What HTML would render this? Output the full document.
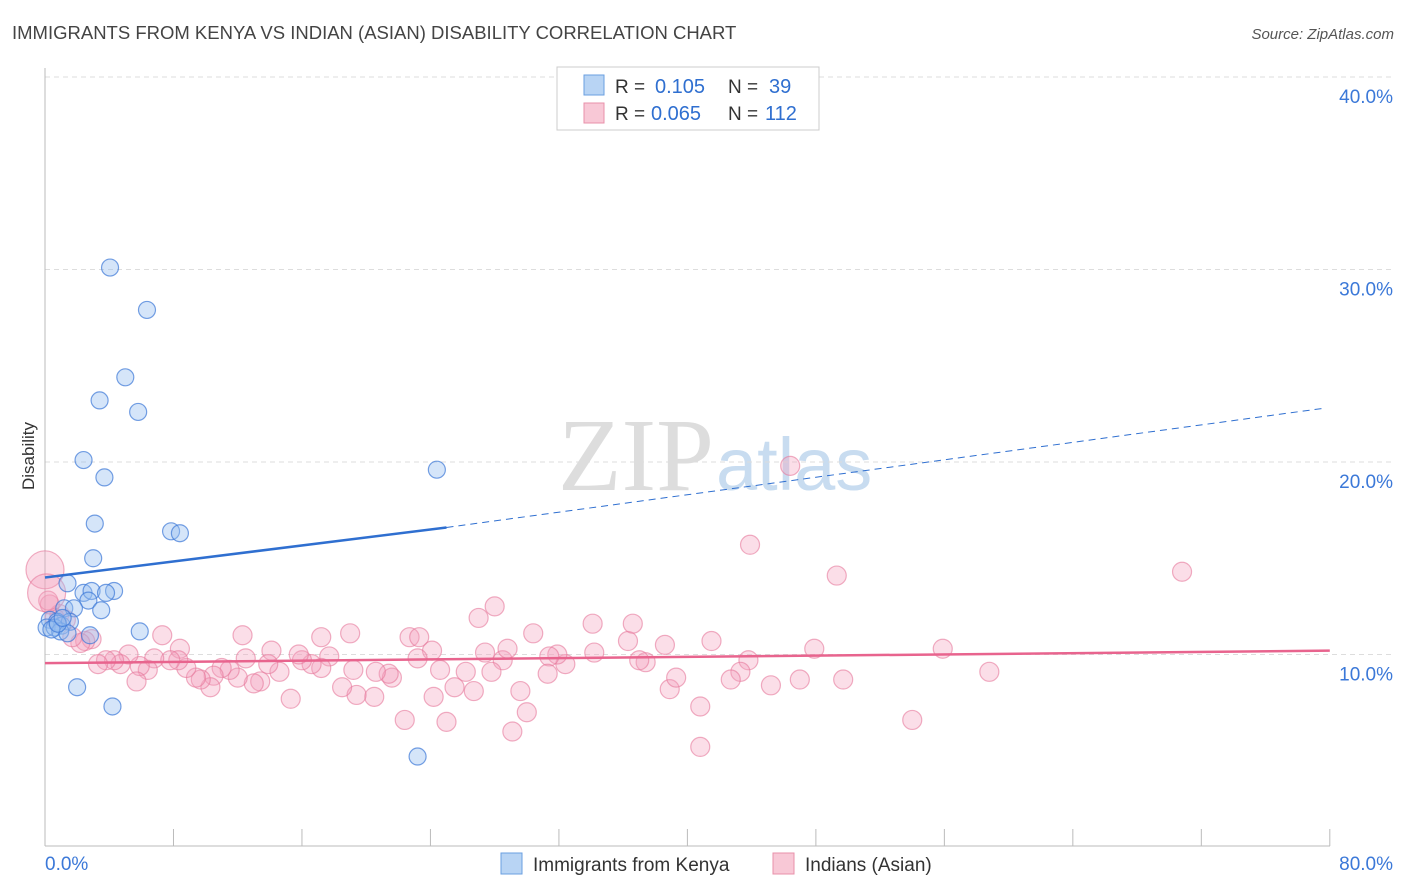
<!DOCTYPE html>
<html><head><meta charset="utf-8"><style>
body{margin:0;background:#fff;font-family:"Liberation Sans",sans-serif;}
svg{display:block}
</style></head><body>
<svg id="chart" width="1406" height="892">
<text x="12" y="39" font-size="18.5" fill="#444">IMMIGRANTS FROM KENYA VS INDIAN (ASIAN) DISABILITY CORRELATION CHART</text>
<text x="1394" y="39" font-size="15" fill="#555" font-style="italic" text-anchor="end">Source: ZipAtlas.com</text>
<text x="34" y="456" font-size="17" fill="#333" transform="rotate(-90 34 456)" text-anchor="middle">Disability</text>
<text x="714" y="490" font-size="104" fill="#ddd" text-anchor="end" font-family="Liberation Serif">ZIP</text>
<text x="716" y="490" font-size="74" fill="#c8dcf0">atlas</text>
<g id="grid"></g><g id="pts"></g><g id="lines"></g>
<g>
<rect x="557" y="67" width="262" height="63" fill="#fff" stroke="#ccc"/>
<rect x="584" y="75" width="20" height="20" fill="#b8d4f4" stroke="#6a9fe0"/>
<rect x="584" y="103" width="20" height="20" fill="#f8c8d6" stroke="#e890aa"/>
<text x="615" y="93" font-size="19" fill="#333">R =</text>
<text x="655" y="93" font-size="20" fill="#2f6fd0">0.105</text>
<text x="728" y="93" font-size="19" fill="#333">N =</text>
<text x="769" y="93" font-size="20" fill="#2f6fd0">39</text>
<text x="615" y="120" font-size="19" fill="#333">R =</text>
<text x="651" y="120" font-size="20" fill="#2f6fd0">0.065</text>
<text x="728" y="120" font-size="19" fill="#333">N =</text>
<text x="765" y="120" font-size="20" fill="#2f6fd0">112</text>
</g>
<g>
<rect x="501" y="853" width="21" height="21" fill="#b8d4f4" stroke="#6a9fe0"/>
<text x="533" y="871" font-size="19" fill="#333">Immigrants from Kenya</text>
<rect x="773" y="853" width="21" height="21" fill="#f8c8d6" stroke="#e890aa"/>
<text x="805" y="871" font-size="19" fill="#333">Indians (Asian)</text>
</g>
</svg>
<script>
const yTicks=[10,20,30,40];
const yTickLabels=["10.0%","20.0%","30.0%","40.0%"];
const xTickLabels=["0.0%","80.0%"];
const kenyaX=[4.05,6.35,5.0,3.4,5.8,2.4,3.7,24.4,3.1,7.85,8.4,3.0,1.4,2.4,2.9,4.3,3.8,2.7,3.5,1.2,1.8,0.3,0.75,1.05,1.55,0.1,0.6,0.95,1.4,5.9,2.8,2.0,4.2,23.2,0.4,0.8,1.1];
const kenyaY=[30.1,27.9,24.4,23.2,22.6,20.1,19.2,19.6,16.8,16.4,16.3,15.0,13.7,13.2,13.3,13.3,13.2,12.8,12.3,12.4,12.4,11.8,11.7,11.5,11.7,11.4,11.4,11.2,11.1,11.2,11.0,8.3,7.3,4.7,11.3,11.6,11.9];
const indianX=[7.3,8.4,12.3,14.1,17.2,19.0,22.7,23.3,24.1,27.0,28.0,30.4,34.1,36.3,36.6,38.6,41.5,43.9,46.4,49.3,47.9,55.9,70.8,58.8,54.0,49.7,47.0,45.2,43.8,43.3,42.7,40.8,40.8,38.9,39.3,37.4,37.0,34.2,32.4,31.9,31.4,31.3,30.0,29.6,29.1,28.5,28.8,27.8,27.4,26.7,26.2,25.5,25.0,24.6,24.2,23.2,22.4,21.6,21.4,20.6,20.5,19.4,19.2,18.5,17.7,17.2,16.6,16.0,15.8,15.3,14.6,13.9,13.4,13.0,12.5,12.0,11.5,11.0,10.5,10.3,9.7,9.4,8.8,8.3,7.8,6.8,6.4,5.9,5.7,5.2,4.7,4.3,3.8,3.3,2.9,2.5,2.2,1.7,1.3,0.9,0.6,0.3,0.2,0.0,0.1];
const indianY=[11.0,10.3,11.0,10.2,10.9,11.1,10.9,10.9,10.2,11.9,12.5,11.1,11.6,10.7,11.6,10.5,10.7,15.7,19.8,14.1,10.3,10.3,14.3,9.1,6.6,8.7,8.7,8.4,9.7,9.1,8.7,7.3,5.2,8.2,8.8,9.6,9.7,10.1,9.5,10.0,9.9,9.0,7.0,8.1,6.0,9.7,10.3,9.1,10.1,8.1,9.1,8.3,6.5,9.2,7.8,9.8,6.6,8.8,9.0,9.1,7.8,7.9,9.2,8.3,9.9,9.3,9.5,9.7,10.0,7.7,9.1,9.5,8.6,8.5,9.8,8.8,9.2,9.3,8.9,8.3,8.7,8.8,9.3,9.7,9.7,9.8,9.2,9.4,8.6,10.0,9.5,9.7,9.7,9.5,10.8,10.7,10.6,10.9,11.8,12.1,11.9,12.6,12.8,14.4,13.2];
const indianR=[];for(let i=0;i<indianX.length;i++)indianR.push(i>=indianX.length-2?19:9.5);
const kenyaTrend=[0,14.0,25,16.6,79.7,22.8];
const indianTrend=[0,9.55,80,10.2];
const X=v=>45+v*16.06, Y=v=>847-v*19.25;
const NS="http://www.w3.org/2000/svg";
function mk(t,a,p){const e=document.createElementNS(NS,t);for(const k in a)e.setAttribute(k,a[k]);p.appendChild(e);return e;}
const g=document.getElementById('grid');
yTicks.forEach((t,i)=>{
 const l=mk('line',{x1:45,x2:1392,y1:Y(t),y2:Y(t),stroke:'#ddd','stroke-dasharray':'5,4'},g);
 
 
 const tx=mk('text',{x:1393,y:Y(t)+26,'font-size':19,fill:'#3b78d8','text-anchor':'end'},g);tx.textContent=yTickLabels[i];
 
 
});
mk('line',{x1:45,x2:45,y1:68,y2:846,stroke:'#bbb'},g);
mk('line',{x1:45,x2:1330,y1:846,y2:846,stroke:'#bbb'},g);
for(let i=1;i<=10;i++)mk('line',{x1:X(i*8),x2:X(i*8),y1:829,y2:846,stroke:'#bbb'},g);
const xl0=mk('text',{x:45,y:870,'font-size':19,fill:'#3b78d8'},g);xl0.textContent=xTickLabels[0];


const xl1=mk('text',{x:1393,y:870,'font-size':19,fill:'#3b78d8','text-anchor':'end'},g);xl1.textContent=xTickLabels[1];


const p=document.getElementById('pts');
indianX.forEach((v,i)=>{const c=mk('circle',{cx:X(v),cy:Y(indianY[i]),r:indianR[i],fill:'rgba(244,160,188,0.35)',stroke:'rgba(230,120,155,0.6)','stroke-width':1.2},p);
 
 });
kenyaX.forEach((v,i)=>{const c=mk('circle',{cx:X(v),cy:Y(kenyaY[i]),r:8.5,fill:'rgba(150,190,240,0.4)',stroke:'rgba(60,120,215,0.7)','stroke-width':1.2},p);
 
 });
const L=document.getElementById('lines');
const k1=mk('line',{x1:X(kenyaTrend[0]),y1:Y(kenyaTrend[1]),x2:X(kenyaTrend[2]),y2:Y(kenyaTrend[3]),stroke:'#2f6fd0','stroke-width':2.5},L);


const k2=mk('line',{x1:X(kenyaTrend[2]),y1:Y(kenyaTrend[3]),x2:X(kenyaTrend[4]),y2:Y(kenyaTrend[5]),stroke:'#2f6fd0','stroke-width':1,'stroke-dasharray':'7,5'},L);


const i1=mk('line',{x1:X(indianTrend[0]),y1:Y(indianTrend[1]),x2:X(indianTrend[2]),y2:Y(indianTrend[3]),stroke:'#e8648e','stroke-width':2.5},L);


</script>
</body></html>
